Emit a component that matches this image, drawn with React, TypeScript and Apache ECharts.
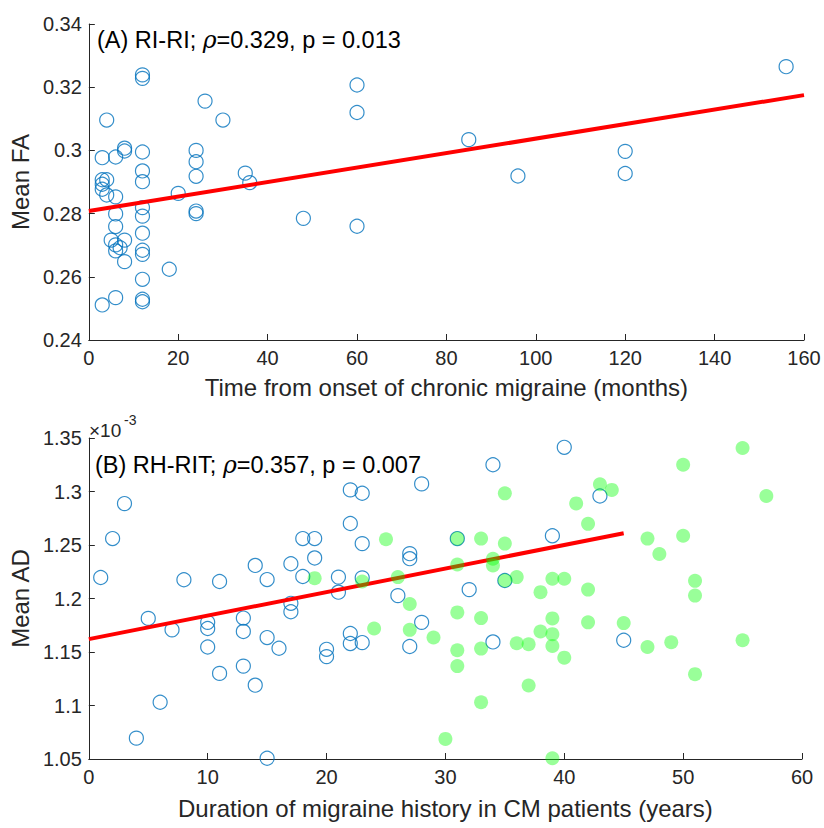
import React, { useEffect, useRef } from "react";
import * as echarts from "echarts";

// Panel A: RI-RI, mean FA vs time from onset of chronic migraine (months)
const faMonths = [
  12, 12, 26, 4, 30, 3, 6, 8, 8, 12, 24, 24, 24, 12, 12, 35, 36, 3, 4, 3, 3, 4,
  6, 20, 6, 6, 12, 12, 24, 24, 12, 5, 6, 7, 8, 6, 12, 12, 8, 18, 12, 3, 6, 12, 12,
  60, 60, 60, 48, 85, 96, 120, 120, 156,
];
const faValues = [
  0.3239, 0.3228, 0.3156, 0.3096, 0.3096, 0.2977, 0.2979, 0.3007, 0.2998, 0.2995,
  0.3, 0.2964, 0.2918, 0.2935, 0.2901, 0.2928, 0.2898, 0.2907, 0.2907, 0.2893,
  0.2877, 0.2859, 0.2853, 0.2864, 0.2799, 0.2759, 0.2819, 0.2792, 0.2808, 0.28,
  0.2738, 0.2716, 0.2701, 0.2692, 0.2716, 0.2682, 0.2684, 0.2671, 0.2648, 0.2624,
  0.2592, 0.2511, 0.2534, 0.2529, 0.2521, 0.3207, 0.312, 0.276, 0.2785, 0.3034,
  0.2919, 0.2997, 0.2927, 0.3265,
];
const fitAX = [0, 160];
const fitAY = [0.2808, 0.3175];

// Panel B: RH-RIT, mean AD (x10^-3) vs duration of migraine history (years)
const adYearsBlue = [
  1, 2, 3, 5, 4, 6, 7, 8, 10, 10, 10, 11, 11, 13, 13, 13, 14, 14, 15, 15, 15, 16,
  17, 17, 17, 18, 19, 19, 18, 20, 20, 21, 21, 22, 23, 22, 23, 23, 22, 22, 23, 28,
  27, 27, 26, 28, 27, 31, 34, 32, 34, 35, 39, 40, 43, 45,
];
const adValuesBlue = [
  1.2196, 1.256, 1.2887, 1.1814, 1.0695, 1.103, 1.1707, 1.2175, 1.1777, 1.172,
  1.1547, 1.2159, 1.13, 1.1817, 1.1692, 1.1368, 1.2309, 1.119, 1.2177, 1.1635,
  1.0507, 1.1535, 1.2325, 1.1955, 1.1876, 1.256, 1.256, 1.2379, 1.2206, 1.1525,
  1.1457, 1.22, 1.2059, 1.3015, 1.2984, 1.2701, 1.2513, 1.2193, 1.1673, 1.1579,
  1.1588, 1.3071, 1.2419, 1.2372, 1.2027, 1.1777, 1.1551, 1.256, 1.325, 1.2083,
  1.1594, 1.2168, 1.2586, 1.3413, 1.2958, 1.161,
];
const adYearsGreen = [
  19, 25, 23, 26, 27, 24, 27, 29, 31, 31, 33, 35, 35, 34, 34, 36, 35, 31, 33, 31,
  31, 33, 33, 30, 36, 37, 37, 38, 38, 39, 40, 39, 39, 39, 40, 39, 41, 43, 44, 42,
  50, 55, 57, 47, 50, 48, 42, 51, 51, 42, 45, 47, 49, 55, 51,
];
const adValuesGreen = [
  1.219, 1.2554, 1.2159, 1.22, 1.1949, 1.172, 1.1707, 1.1635, 1.256, 1.2318,
  1.256, 1.2983, 1.2513, 1.2372, 1.2309, 1.22, 1.2168, 1.187, 1.1817, 1.1516,
  1.1368, 1.1532, 1.103, 1.0688, 1.1582, 1.1572, 1.1187, 1.2059, 1.1692, 1.2184,
  1.2184, 1.1814, 1.1667, 1.1557, 1.1447, 1.0507, 1.2889, 1.3068, 1.3015, 1.2698,
  1.325, 1.3407, 1.2958, 1.256, 1.2586, 1.2416, 1.2083, 1.2165, 1.2027, 1.1777,
  1.177, 1.1547, 1.1591, 1.161, 1.1293,
];
const fitBX = [0, 45];
const fitBY = [1.162, 1.261];

const FONT = "Liberation Sans, Arial, Helvetica, sans-serif";
const AXIS_COLOR = "#262626";

const zip = (xs: number[], ys: number[]) => xs.map((x, i) => [x, ys[i]]);
const fmt = (v: number) => String(+v.toFixed(4));

function xAxisCfg(gridIndex: number, max: number, interval: number, name: string, nameGap: number) {
  return {
    type: "value",
    gridIndex,
    min: 0,
    max,
    interval,
    name,
    nameLocation: "middle",
    nameGap,
    nameTextStyle: { fontSize: 24, color: AXIS_COLOR, fontFamily: FONT },
    axisLine: { show: true, onZero: false, lineStyle: { color: AXIS_COLOR, width: 1 } },
    axisTick: { show: true, inside: true, length: 6, lineStyle: { color: AXIS_COLOR } },
    axisLabel: { fontSize: 20, color: AXIS_COLOR, fontFamily: FONT, margin: 8, formatter: fmt },
    splitLine: { show: false },
  };
}

function yAxisCfg(gridIndex: number, min: number, max: number, interval: number, name: string) {
  return {
    type: "value",
    gridIndex,
    min,
    max,
    interval,
    name,
    nameLocation: "middle",
    nameGap: 54,
    nameTextStyle: { fontSize: 24, color: AXIS_COLOR, fontFamily: FONT },
    axisLine: { show: true, onZero: false, lineStyle: { color: AXIS_COLOR, width: 1 } },
    axisTick: { show: true, inside: true, length: 6, lineStyle: { color: AXIS_COLOR } },
    axisLabel: { fontSize: 20, color: AXIS_COLOR, fontFamily: FONT, margin: 7, formatter: fmt },
    splitLine: { show: false },
  };
}

const blueCircle = {
  color: "rgba(0,0,0,0)",
  borderColor: "#0072BD",
  borderWidth: 1.2,
};

const richText = {
  a: { fontSize: 23.5, fontFamily: FONT, fill: "#000" },
  r: { fontSize: 23.5, fontFamily: "DejaVu Serif, serif", fontStyle: "italic", fill: "#000" },
};

export default function App() {
  const ref = useRef<HTMLDivElement>(null);
  useEffect(() => {
    if (!ref.current) return;
    const chart = echarts.init(ref.current, null, { renderer: "svg" });
    const option = {
      animation: false,
      backgroundColor: "#ffffff",
      grid: [
        { left: 88, top: 24, width: 716, height: 316 },
        { left: 88, top: 438, width: 714, height: 321 },
      ],
      xAxis: [
        xAxisCfg(0, 160, 20, "Time from onset of chronic migraine (months)", 35),
        xAxisCfg(1, 60, 10, "Duration of migraine history in CM patients (years)", 37),
      ],
      yAxis: [
        yAxisCfg(0, 0.24, 0.34, 0.02, "Mean FA"),
        yAxisCfg(1, 1.05, 1.35, 0.05, "Mean AD"),
      ],
      series: [
        {
          type: "scatter",
          xAxisIndex: 0,
          yAxisIndex: 0,
          data: zip(faMonths, faValues),
          symbol: "circle",
          symbolSize: 14,
          itemStyle: blueCircle,
          z: 2,
        },
        {
          type: "line",
          xAxisIndex: 0,
          yAxisIndex: 0,
          data: zip(fitAX, fitAY),
          symbol: "none",
          lineStyle: { color: "#FF0000", width: 4 },
          z: 3,
        },
        {
          type: "scatter",
          xAxisIndex: 1,
          yAxisIndex: 1,
          data: zip(adYearsBlue, adValuesBlue),
          symbol: "circle",
          symbolSize: 14,
          itemStyle: blueCircle,
          z: 2,
        },
        {
          type: "line",
          xAxisIndex: 1,
          yAxisIndex: 1,
          data: zip(fitBX, fitBY),
          symbol: "none",
          lineStyle: { color: "#FF0000", width: 4 },
          z: 3,
        },
        {
          type: "scatter",
          xAxisIndex: 1,
          yAxisIndex: 1,
          data: zip(adYearsGreen, adValuesGreen),
          symbol: "circle",
          symbolSize: 14,
          itemStyle: { color: "rgba(0,255,0,0.5)" },
          z: 4,
        },
      ],
      graphic: [
        {
          type: "text",
          left: 97,
          top: 28,
          style: { text: "{a|(A) RI-RI; }{r|ρ}{a|=0.329, p = 0.013}", rich: richText },
          z: 10,
        },
        {
          type: "text",
          left: 95,
          top: 453,
          style: { text: "{a|(B) RH-RIT; }{r|ρ}{a|=0.357, p = 0.007}", rich: richText },
          z: 10,
        },
        {
          type: "text",
          left: 89,
          top: 421,
          style: { text: "×10", fontSize: 19, fontFamily: FONT, fill: AXIS_COLOR },
        },
        {
          type: "text",
          left: 124,
          top: 413,
          style: { text: "-3", fontSize: 14, fontFamily: FONT, fill: AXIS_COLOR },
        },
      ],
    };
    chart.setOption(option as any);
    return () => chart.dispose();
  }, []);
  return (
    <div
      ref={ref}
      style={{ position: "fixed", left: 0, top: 0, width: 824, height: 828, background: "#fff" }}
    />
  );
}
